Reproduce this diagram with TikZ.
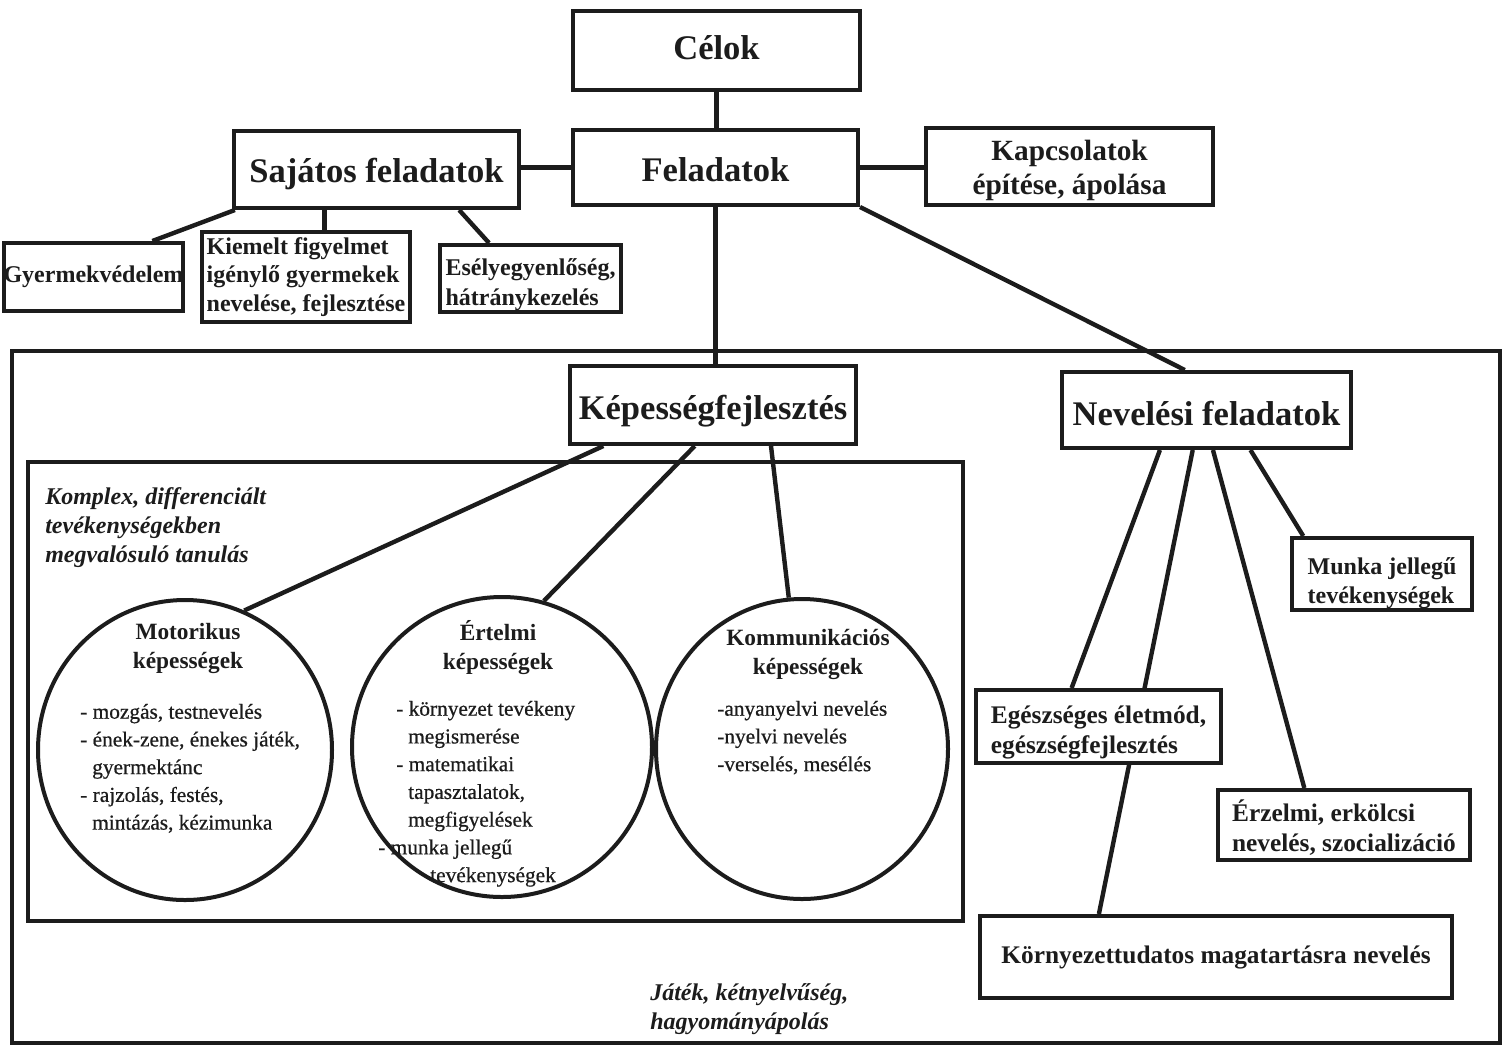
\documentclass[tikz,border=0pt]{standalone}
\usepackage{fontspec}
\setmainfont{Liberation Serif}
\usetikzlibrary{calc,shapes.geometric,backgrounds}
\definecolor{ink}{RGB}{28,28,28}
\newcommand\dropby[2]{\raisebox{-#1}[\height][\depth]{#2}}
\begin{document}
\begin{tikzpicture}[x=0.75pt,y=-0.75pt,
  box/.style={draw=ink, fill=white, line width=3pt, inner sep=0pt, align=center, text=ink},
  oval/.style={ellipse, draw=ink, fill=white, line width=3pt, inner sep=0pt},
  conn/.style={draw=ink, line width=3.3pt},
  frame/.style={draw=ink, line width=3pt},
  big/.style={font=\fontsize{25.9}{30}\selectfont\bfseries},
  kap/.style={font=\fontsize{22}{25.5}\selectfont\bfseries},
  med/.style={font=\fontsize{19}{22.5}\selectfont\bfseries},
  small/.style={font=\fontsize{18}{21.4}\selectfont\bfseries},
  ctitle/.style={font=\fontsize{17.5}{21.75}\selectfont\bfseries, align=center, inner sep=0pt, text=ink},
  list/.style={font=\fontsize{16}{20.8}\selectfont\addfontfeatures{FakeBold=0.6}, align=left, inner sep=0pt, anchor=north west, text=ink},
  ital/.style={font=\fontsize{18}{21.75}\selectfont\bfseries\itshape, align=left, inner sep=0pt, anchor=north west, text=ink}
]
\useasboundingbox (0,0) rectangle (1502,1047);

% frames
\draw[frame] (12,351) rectangle (1500,1043);
\draw[frame] (28,462) rectangle (963,921);

% top boxes
\node[box,big,minimum width=215.25pt,minimum height=59.25pt] (celok) at (716.5,50.5) {\dropby{-2.25pt}{Célok}};
\node[box,big,minimum width=213.75pt,minimum height=56.25pt] (feladatok) at (715.5,167.5) {\dropby{1.5pt}{Feladatok}};
\node[box,big,minimum width=213.75pt,minimum height=57.75pt] (sajatos) at (376.5,169.5) {\dropby{3.75pt}{Sajátos feladatok}};
\node[box,kap,minimum width=215.25pt,minimum height=57.75pt] (kapcs) at (1069.5,166.5) {\dropby{3pt}{Kapcsolatok}\\\dropby{3pt}{építése, ápolása}};

\node[box,small,minimum width=134.25pt,minimum height=51pt] (gyermek) at (93.5,277) {Gyermekvédelem};
\node[box,small,align=left,minimum width=156pt,minimum height=67.5pt] (kiemelt) at (306,277) {Kiemelt figyelmet\\igénylő gyermekek\\nevelése, fejlesztése};
\node[box,font=\fontsize{18}{22.5}\selectfont\bfseries,align=left,minimum width=135.75pt,minimum height=50.25pt] (esely) at (530.5,278.5) {\dropby{4.5pt}{Esélyegyenlőség,}\\\dropby{4.5pt}{hátránykezelés}};

% middle
\node[box,big,minimum width=214.5pt,minimum height=58.5pt] (kepesseg) at (713,405) {\dropby{4.5pt}{Képességfejlesztés}};
\node[box,big,minimum width=216.75pt,minimum height=57pt] (neveles) at (1206.5,410) {\dropby{2.25pt}{Nevelési feladatok}};

% ellipses
\node[oval,minimum width=220.5pt,minimum height=225pt] (motor) at (185,750) {};
\node[oval,minimum width=225pt,minimum height=225pt] (ertelmi) at (502,747) {};
\node[oval,minimum width=219pt,minimum height=225pt] (komm) at (802,749) {};

% right boxes
\node[box,small,align=left,minimum width=135pt,minimum height=54pt] (munka) at (1382,574) {\dropby{6.75pt}{Munka jellegű}\\\dropby{6.75pt}{tevékenységek}};
\node[box,med,align=left,minimum width=183.75pt,minimum height=54.75pt] (egesz) at (1098.5,726.5) {\dropby{4.5pt}{Egészséges életmód,}\\\dropby{4.5pt}{egészségfejlesztés}};
\node[box,med,align=left,minimum width=189pt,minimum height=52.5pt] (erzelmi) at (1344,825) {\dropby{2.25pt}{Érzelmi, erkölcsi}\\\dropby{2.25pt}{nevelés, szocializáció}};
\node[box,med,minimum width=354pt,minimum height=61.5pt] (kornyezet) at (1216,957) {Környezettudatos magatartásra nevelés};

% texts in ellipses
\node[ctitle] (mtitle) at (188,648) {Motorikus\\képességek};
\node[ctitle] (etitle) at (498,648) {Értelmi\\képességek};
\node[ctitle] (ktitle) at (808,654) {Kommunikációs\\képességek};

\node[list] (mlist) at (80,699) {\strut- mozgás, testnevelés\\- ének-zene, énekes játék,\\\hspace*{9pt}gyermektánc\\- rajzolás, festés,\\\hspace*{9pt}mintázás, kézimunka};
\node[list] (elist) at (378,696) {\strut\hspace*{13.5pt}- környezet tevékeny\\\hspace*{22.5pt}megismerése\\\hspace*{13.5pt}- matematikai\\\hspace*{22.5pt}tapasztalatok,\\\hspace*{22.5pt}megfigyelések\\- munka jellegű\\\hspace*{39pt}tevékenységek};
\node[list] (klist) at (717,696) {\strut-anyanyelvi nevelés\\-nyelvi nevelés\\-verselés, mesélés};

\node[ital] (komplex) at (45,484) {\strut Komplex, differenciált\\tevékenységekben\\megvalósuló tanulás};
\node[ital] (jatek) at (650,980) {\strut Játék, kétnyelvűség,\\hagyományápolás};

% connectors
\begin{scope}[on background layer]
\fill[white] (0,0) rectangle (1502,1047);
\draw[conn] (celok.south) -- (celok.south |- feladatok.north);
\draw[conn] (feladatok.west) -- (feladatok.west -| sajatos.east);
\draw[conn] (feladatok.east) -- (feladatok.east -| kapcs.west);

\coordinate (s1) at ($(sajatos.south west)!0.01!(sajatos.south east)$);
\coordinate (s2) at ($(sajatos.south west)!0.32!(sajatos.south east)$);
\coordinate (s3) at ($(sajatos.south west)!0.786!(sajatos.south east)$);
\draw[conn] (s1) -- ($(gyermek.north west)!0.82!(gyermek.north east)$);
\draw[conn] (s2) -- (s2 |- kiemelt.north);
\draw[conn] (s3) -- ($(esely.north west)!0.276!(esely.north east)$);

\draw[conn] (feladatok.south) -- (feladatok.south |- kepesseg.north);
\draw[conn] (feladatok.south east) -- ($(neveles.north west)!0.426!(neveles.north east)$);

\draw[conn] ($(kepesseg.south west)!0.122!(kepesseg.south east)$) -- (motor.67);
\draw[conn] ($(kepesseg.south west)!0.437!(kepesseg.south east)$) -- (ertelmi.74);
\draw[conn] ($(kepesseg.south west)!0.70!(kepesseg.south east)$) -- (komm.95);

\draw[conn] ($(neveles.south west)!0.341!(neveles.south east)$) -- ($(egesz.north west)!0.392!(egesz.north east)$);
\draw[conn] ($(neveles.south west)!0.453!(neveles.south east)$) -- ($(kornyezet.north west)!0.254!(kornyezet.north east)$);
\draw[conn] ($(neveles.south west)!0.522!(neveles.south east)$) -- ($(erzelmi.north west)!0.345!(erzelmi.north east)$);
\draw[conn] ($(neveles.south west)!0.65!(neveles.south east)$) -- ($(munka.north west)!0.072!(munka.north east)$);
\end{scope}
\end{tikzpicture}
\end{document}
